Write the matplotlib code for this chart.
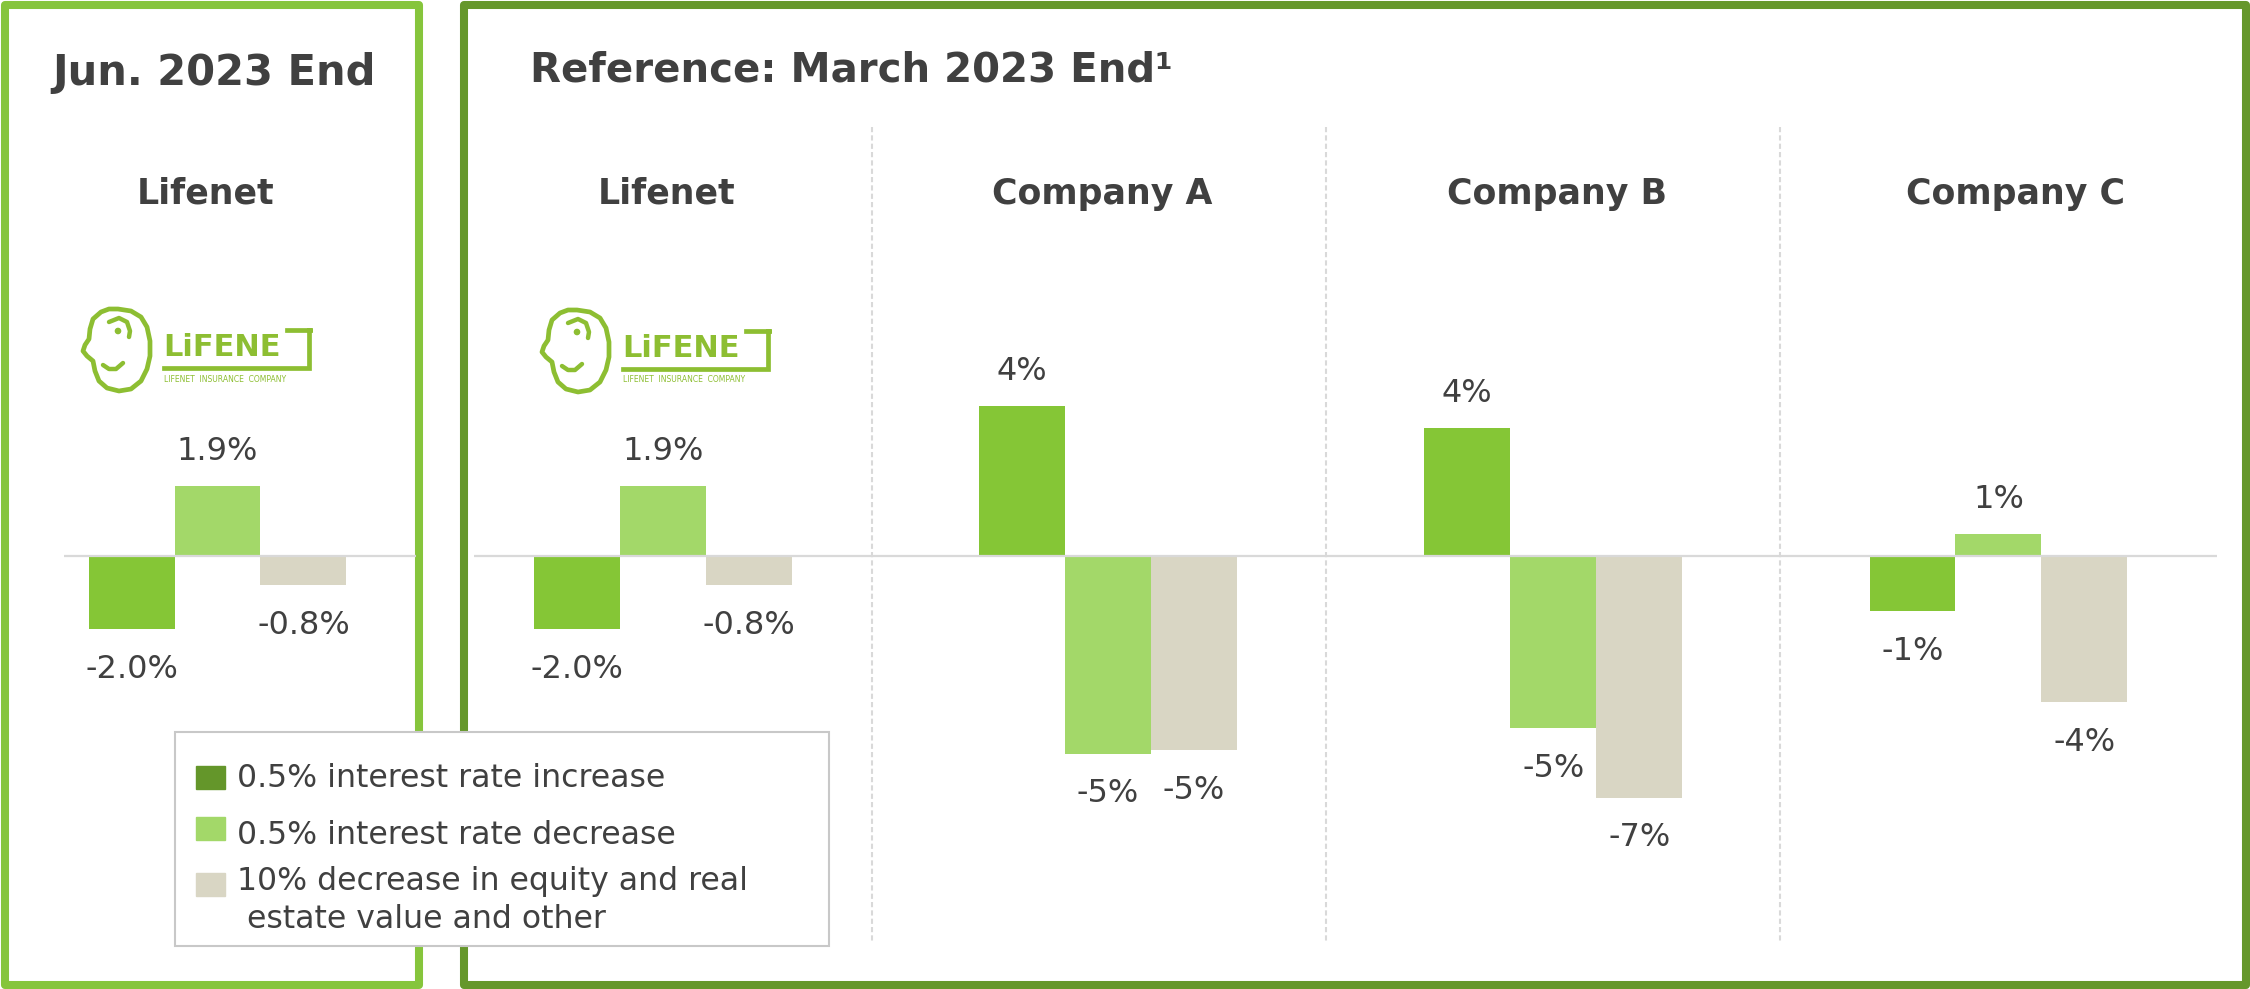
import matplotlib
matplotlib.use("Agg")
import matplotlib.pyplot as plt
import numpy as np
from matplotlib.patches import Rectangle, Polygon, Circle
from matplotlib.transforms import blended_transform_factory

# data
groups = ["Lifenet", "Lifenet", "Company A", "Company B", "Company C"]
rate_up = [-2.0, -2.0, 4.1, 3.5, -1.5]
rate_down = [1.9, 1.9, -5.4, -4.7, 0.6]
equity_down = [-0.8, -0.8, -5.3, -6.6, -4.0]
rate_up_labels = ["-2.0%", "-2.0%", "4%", "4%", "-1%"]
rate_down_labels = ["1.9%", "1.9%", "-5%", "-5%", "1%"]
equity_down_labels = ["-0.8%", "-0.8%", "-5%", "-7%", "-4%"]
series_names = ["0.5% interest rate increase",
                "0.5% interest rate decrease",
                "10% decrease in equity and real",
                " estate value and other"]

# colours
TXT = "#404040"
C_UP = "#85C636"
C_DOWN = "#A3D869"
C_EQ = "#D9D6C4"
C_UP_LEG = "#64962A"
FRAME_L = "#86C53C"
FRAME_R = "#65972B"
LOGO = "#8DBE32"
GRID = "#D9D9D9"

plt.rcParams["font.family"] = ["DejaVu Sans"]

fig = plt.figure(figsize=(22.5, 9.89), dpi=100)

# background layer in pixel coords (y down) for frames, titles, logo, legend
bg = fig.add_axes([0, 0, 1, 1])
bg.set_xlim(0, 2250)
bg.set_ylim(989, 0)
bg.axis("off")

# chart layer
ax = fig.add_axes([0, 0, 1, 1])
ax.set_xlim(-0.4885, 4.565)
ax.set_ylim(-11.83, 15.19)
ax.axis("off")
ax.patch.set_visible(False)

trans = blended_transform_factory(ax.transData, bg.transData)

# frames
bg.add_patch(Rectangle((5, 5), 414, 980, fill=False, ec=FRAME_L, lw=5.8, joinstyle="round"))
bg.add_patch(Rectangle((464, 5), 1782, 980, fill=False, ec=FRAME_R, lw=5.8, joinstyle="round"))

# panel titles
bg.text(214, 85, "Jun. 2023 End", ha="center", va="baseline", fontsize=30,
        fontweight="bold", color=TXT)
bg.text(530, 82, "Reference: March 2023 End\u00b9", ha="left", va="baseline", fontsize=29,
        fontweight="bold", color=TXT)

# group titles
title_x = [206, 667, 1102, 1557, 2016]
for tx, name in zip(title_x, groups):
    bg.text(tx, 204, name, ha="center", va="baseline", fontsize=25,
            fontweight="bold", color=TXT)

# dashed separators
bg.vlines([1.47, 2.49, 3.51], 127, 943, transform=trans, color=GRID, lw=1.5,
          linestyles=(0, (2.5, 1.5)))


# logo
def draw_logo(dx, dy):
    head = [(577, 310), (590, 312), (600, 318), (606, 328), (609, 342), (609, 357),
            (606, 370), (600, 382), (590, 390), (578, 392), (566, 389), (558, 382),
            (554, 372), (552, 362), (546, 357), (542, 352), (544, 346), (548, 340),
            (549, 330), (552, 320), (560, 313), (568, 310)]
    head = [(a + dx, b + dy) for a, b in head]
    bg.add_patch(Polygon(head, closed=True, fill=False, ec=LOGO, lw=3.4, joinstyle="round"))
    curl = np.array([(568, 323), (578, 319), (586, 323), (589, 332), (588, 338)], float)
    bg.plot(curl[:, 0] + dx, curl[:, 1] + dy, color=LOGO, lw=3.2, solid_capstyle="round")
    bg.add_patch(Circle((577 + dx, 332 + dy), 2.6, color=LOGO))
    mouth = np.array([(562, 366), (568, 370), (575, 370), (582, 364)], float)
    bg.plot(mouth[:, 0] + dx, mouth[:, 1] + dy, color=LOGO, lw=3.2, solid_capstyle="round")
    bg.text(622 + dx, 357 + dy, "LiFENE", ha="left", va="baseline", fontsize=22,
            fontweight="bold", color=LOGO)
    hook = np.array([(746, 331), (771, 331), (768, 331), (768, 369), (623, 369)], float)
    bg.plot(hook[:, 0] + dx, hook[:, 1] + dy, color=LOGO, lw=3.4, solid_joinstyle="miter")
    bg.text(623 + dx, 380 + dy, "LIFENET  INSURANCE  COMPANY", ha="left", va="center",
            fontsize=5.5, color=LOGO)


draw_logo(-459, -1)
draw_logo(0, 0)

# bars
x = np.arange(len(groups))
w = 0.193
series = [(x - w, rate_up, rate_up_labels, C_UP),
          (x, rate_down, rate_down_labels, C_DOWN),
          (x + w, equity_down, equity_down_labels, C_EQ)]
for xs, vals, labs, col in series:
    ax.bar(xs, vals, w, color=col, zorder=2)
    for xv, v, lab in zip(xs, vals, labs):
        off = 25 if v > 0 else -29
        ax.annotate(lab, (xv, v), xytext=(0, off), textcoords="offset points",
                    ha="center", va="center", fontsize=23, color=TXT)

# zero lines (one per panel)
ax.hlines(0, -0.345, 0.446, color=GRID, lw=1.6, zorder=3)
ax.hlines(0, 0.576, 4.491, color=GRID, lw=1.6, zorder=3)

# legend box
bg.add_patch(Rectangle((175, 732), 654, 214, fc="white", ec="#C8C8C8", lw=1.5, zorder=5))
leg_colors = [C_UP_LEG, C_DOWN, C_EQ]
sq_tops = [766, 817, 873]
for col, top in zip(leg_colors, sq_tops):
    bg.add_patch(Rectangle((196, top), 29, 23, color=col, zorder=6))
for name, (lx, ly) in zip(series_names, [(237, 787), (237, 844), (237, 890), (237, 928)]):
    bg.text(lx, ly, name, ha="left", va="baseline", fontsize=22.7, color=TXT, zorder=7)

fig.savefig("out.png", dpi=100)
